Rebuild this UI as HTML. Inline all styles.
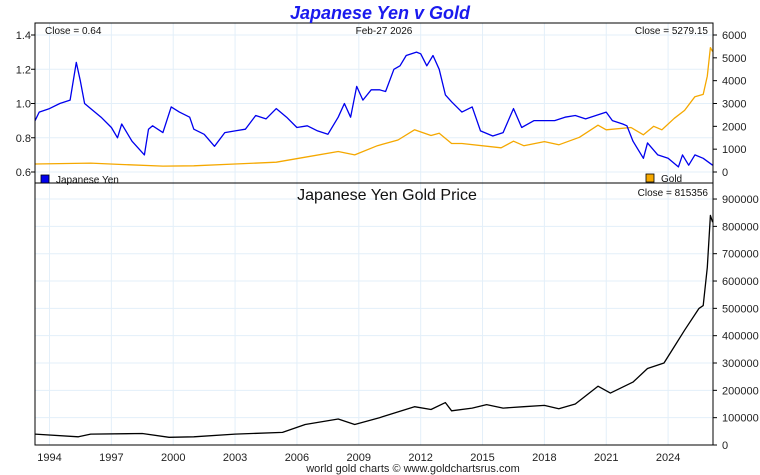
<!DOCTYPE html>
<html><head><meta charset="utf-8"><style>
body{margin:0;background:#fff;width:760px;height:475px;overflow:hidden}
svg{display:block;font-family:"Liberation Sans",sans-serif}
</style></head><body>
<svg id="c" width="760" height="475"></svg>
<script>
const yenT=[1993.3,1993.5,1994,1994.5,1995,1995.3,1995.5,1995.7,1996,1996.5,1997,1997.3,1997.5,1998,1998.6,1998.8,1999,1999.5,1999.9,2000.3,2000.8,2001,2001.5,2002,2002.5,2003,2003.5,2004,2004.5,2005,2005.5,2006,2006.5,2007,2007.5,2008,2008.3,2008.6,2008.9,2009.2,2009.6,2010,2010.3,2010.7,2011,2011.3,2011.8,2012,2012.3,2012.6,2012.9,2013.2,2013.5,2014,2014.5,2014.9,2015.5,2016,2016.5,2016.9,2017.5,2018,2018.5,2019,2019.5,2020,2020.5,2021,2021.3,2021.8,2022,2022.3,2022.8,2023,2023.5,2024,2024.5,2024.7,2025,2025.3,2025.7,2026.16];
const yenV=[0.90,0.95,0.97,1.00,1.02,1.24,1.13,1.00,0.97,0.92,0.86,0.80,0.88,0.78,0.70,0.85,0.87,0.83,0.98,0.95,0.92,0.85,0.82,0.75,0.83,0.84,0.85,0.93,0.91,0.97,0.92,0.86,0.87,0.84,0.82,0.92,1.00,0.92,1.10,1.02,1.08,1.08,1.07,1.20,1.22,1.28,1.30,1.29,1.22,1.28,1.20,1.05,1.01,0.95,0.98,0.84,0.81,0.83,0.97,0.86,0.90,0.90,0.90,0.92,0.93,0.91,0.93,0.95,0.90,0.88,0.87,0.78,0.68,0.77,0.70,0.68,0.63,0.70,0.64,0.70,0.68,0.64];
const goldT=[1993.3,1996,1997.5,1999.5,2001,2003,2005,2006.4,2008,2008.8,2009.9,2010.9,2011.7,2012.5,2012.9,2013.5,2014,2015.9,2016.5,2017,2018,2018.7,2019.7,2020.6,2021,2022.2,2022.8,2023.3,2023.7,2024.3,2024.8,2025.3,2025.7,2025.9,2026.05,2026.16];
const goldV=[350,390,330,260,270,350,430,650,900,750,1150,1400,1850,1600,1700,1250,1250,1060,1350,1150,1330,1190,1520,2050,1850,1950,1630,2000,1850,2350,2700,3300,3400,4200,5450,5279];
const jgT=[1993.3,1995.4,1996,1998.5,1999.8,2001,2003,2005.3,2006.4,2008,2008.8,2010,2011.7,2012.5,2013.2,2013.5,2014.5,2015.2,2016,2017,2018,2018.7,2019.5,2020.6,2021.2,2022.3,2023,2023.8,2024.3,2024.8,2025.5,2025.7,2025.9,2026.05,2026.16];
const jgV=[40000,30000,40000,42000,28000,30000,40000,46000,75000,95000,75000,100000,140000,130000,155000,125000,135000,148000,135000,140000,145000,133000,150000,215000,190000,230000,280000,300000,360000,420000,500000,510000,650000,840000,815356];
const yearTicks=[1994,1997,2000,2003,2006,2009,2012,2015,2018,2021,2024];
const yenTicks=[0.6,0.8,1.0,1.2,1.4];
const goldTicks=[0,1000,2000,3000,4000,5000,6000];
const jgTicks=[0,100000,200000,300000,400000,500000,600000,700000,800000,900000];

const L=35,R=713,T1=23,B1=183,B2=445;
const x=t=>49.5+(t-1994)*20.62;
const yYen=v=>172-(v-0.6)*171.25;
const yGold=v=>172-v*0.022833;
const yJg=v=>445-v*0.0002733;
const svg=document.getElementById('c');
const NS='http://www.w3.org/2000/svg';
function mk(tag,at,txt){const e=document.createElementNS(NS,tag);for(const k in at)e.setAttribute(k,at[k]);if(txt!==undefined)e.textContent=txt;svg.appendChild(e);return e;}
const defs=mk('defs',{});
defs.innerHTML='<clipPath id="cp1"><rect x="35" y="23" width="678" height="160"/></clipPath><clipPath id="cp2"><rect x="35" y="183" width="678" height="262"/></clipPath>';
yearTicks.forEach(yr=>{
  const g=mk('line',{x1:x(yr),x2:x(yr),y1:T1,y2:B2,stroke:'#e3eff9','stroke-width':1});
  
  
  const t=mk('text',{x:x(yr),y:461,'font-size':11,'text-anchor':'middle',fill:'#222'},yr);
  
  
});
yenTicks.forEach(v=>{
  const g=mk('line',{x1:L,x2:R,y1:yYen(v),y2:yYen(v),stroke:'#e3eff9'});
  
  
  mk('line',{x1:L-4,x2:L,y1:yYen(v),y2:yYen(v),stroke:'#000'});
  const t=mk('text',{x:31,y:yYen(v)+4,'font-size':11,'text-anchor':'end',fill:'#222'},v.toFixed(1));
  
  
});
goldTicks.forEach(v=>{
  mk('line',{x1:R,x2:R+4,y1:yGold(v),y2:yGold(v),stroke:'#000'});
  const t=mk('text',{x:722,y:yGold(v)+4,'font-size':11,fill:'#222'},v);
  
  
});
jgTicks.forEach(v=>{
  const g=mk('line',{x1:L,x2:R,y1:yJg(v),y2:yJg(v),stroke:'#e3eff9'});
  
  
  mk('line',{x1:R,x2:R+4,y1:yJg(v),y2:yJg(v),stroke:'#000'});
  const t=mk('text',{x:722,y:yJg(v)+4,'font-size':11,fill:'#222'},v);
  
  
});
function line(ts,vs,yf,col,name,clip){
  const d=ts.map((t,i)=>(i?'L':'M')+x(t).toFixed(1)+','+yf(vs[i]).toFixed(1)).join('');
  const p=mk('path',{d:d,fill:'none',stroke:col,'stroke-width':1.3,'stroke-linejoin':'round','clip-path':'url(#'+clip+')'});
  
  
}
line(goldT,goldV,yGold,'#f5a800','gold-line','cp1');
line(yenT,yenV,yYen,'#0000ee','yen-line','cp1');
line(jgT,jgV,yJg,'#000','jpy-gold-line','cp2');
const f1=mk('rect',{x:L,y:T1,width:R-L,height:B1-T1,fill:'none',stroke:'#000'});

const f2=mk('rect',{x:L,y:B1,width:R-L,height:B2-B1,fill:'none',stroke:'#000'});

</script>
<svg width="760" height="475" style="position:absolute;left:0;top:0">
<text x="380" y="19" font-size="18" font-weight="bold" font-style="italic" fill="#1a1aee" text-anchor="middle">Japanese Yen v Gold</text>
<text x="45" y="34" font-size="10" fill="#111">Close = 0.64</text>
<text x="384" y="34" font-size="10" fill="#111" text-anchor="middle">Feb-27  2026</text>
<text x="708" y="34" font-size="10" fill="#111" text-anchor="end">Close = 5279.15</text>
<rect x="41" y="175" width="8" height="8" fill="#0000ee" stroke="#000" stroke-width="0.8"/>
<text x="56" y="183" font-size="10" fill="#111">Japanese Yen</text>
<rect x="646" y="174" width="8" height="8" fill="#f5a800" stroke="#000" stroke-width="0.8"/>
<text x="661" y="182" font-size="10" fill="#111">Gold</text>
<text x="387" y="200" font-size="16" fill="#111" text-anchor="middle">Japanese Yen Gold Price</text>
<text x="708" y="196" font-size="10" fill="#111" text-anchor="end">Close = 815356</text>
<text x="413" y="472" font-size="11" fill="#222" text-anchor="middle">world gold charts © www.goldchartsrus.com</text>
</svg>
</body></html>
